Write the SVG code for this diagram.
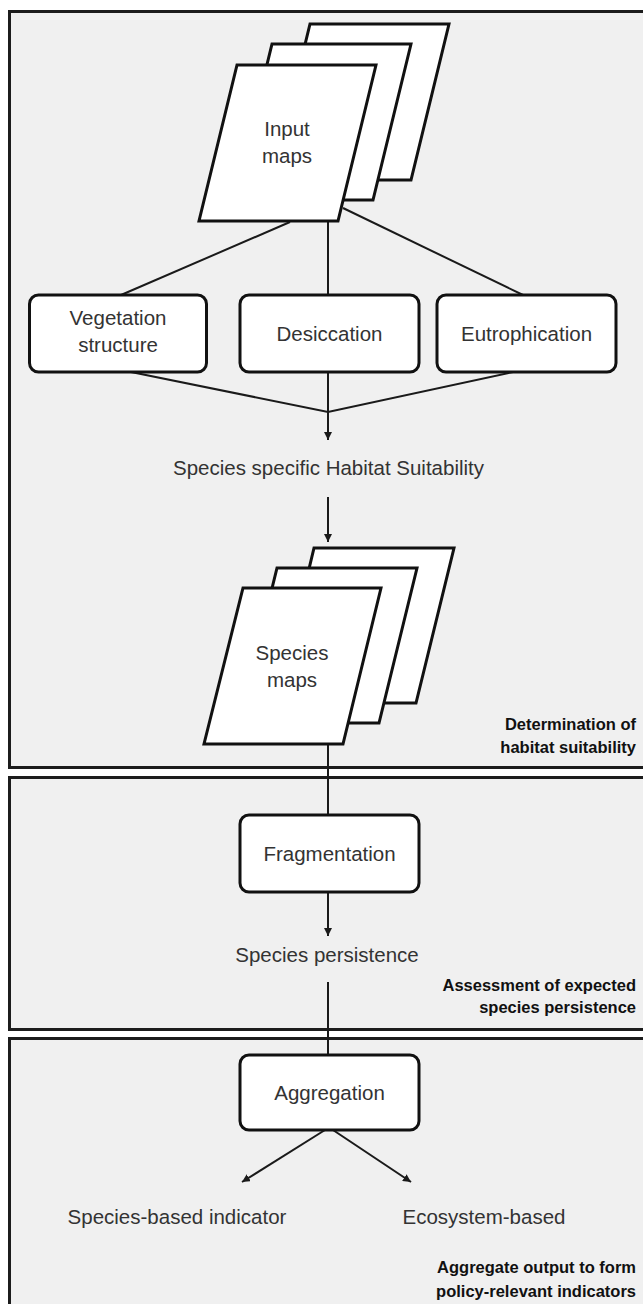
<svg xmlns="http://www.w3.org/2000/svg" width="643" height="1304" viewBox="0 0 643 1304">
<style>
.panel{fill:#f0f0f0;stroke:#1c1c1c;stroke-width:3}
.sheet{fill:#fff;stroke:#111;stroke-width:3;stroke-linejoin:miter}
.box{fill:#fff;stroke:#111;stroke-width:3}
.con{fill:none;stroke:#1a1a1a;stroke-width:2}
.t{font-family:"Liberation Sans",Arial,sans-serif;font-size:20.5px;fill:#333;text-anchor:middle}
.lbl{font-family:"Liberation Sans",Arial,sans-serif;font-size:16.5px;font-weight:bold;fill:#111;text-anchor:end}
</style>
<defs>
<marker id="arr" markerUnits="userSpaceOnUse" markerWidth="8" markerHeight="8" refX="8" refY="4" orient="auto">
<path d="M0,0 L8,4 L0,8 z" fill="#1a1a1a"/>
</marker>
</defs>
<rect width="643" height="1304" fill="#fff"/>
<g id="panel-habitat">
<rect class="panel" x="9.5" y="11.5" width="640" height="756"/>
<text class="lbl" x="636" y="730">Determination of</text>
<text class="lbl" x="636" y="753">habitat suitability</text>
</g>
<g id="panel-persistence">
<rect class="panel" x="9.5" y="777.5" width="640" height="252"/>
<text class="lbl" x="636" y="991">Assessment of expected</text>
<text class="lbl" x="636" y="1013">species persistence</text>
</g>
<g id="panel-aggregate">
<rect class="panel" x="9.5" y="1038.5" width="640" height="300"/>
<text class="lbl" x="636" y="1273">Aggregate output to form</text>
<text class="lbl" x="636" y="1297">policy-relevant indicators</text>
</g>
<g id="connectors">
<line class="con" x1="290" y1="222" x2="121" y2="295"/>
<line class="con" x1="328" y1="222" x2="328" y2="295"/>
<line class="con" x1="343" y1="208" x2="523" y2="295"/>
<polyline class="con" points="131,372 328,412 513,372"/>
<line class="con" x1="328" y1="372" x2="328" y2="440" marker-end="url(#arr)"/>
<line class="con" x1="328" y1="497" x2="328" y2="542" marker-end="url(#arr)"/>
<line class="con" x1="328" y1="744" x2="328" y2="815"/>
<line class="con" x1="328" y1="892" x2="328" y2="936" marker-end="url(#arr)"/>
<line class="con" x1="328" y1="982" x2="328" y2="1055"/>
<line class="con" x1="325" y1="1130" x2="242" y2="1182" marker-end="url(#arr)"/>
<line class="con" x1="333" y1="1130" x2="411" y2="1182" marker-end="url(#arr)"/>
</g>
<g id="input-maps">
<polygon class="sheet" points="310,24 449,24 411,180 272,180"/>
<polygon class="sheet" points="272,44 411,44 373,200 234,200"/>
<polygon class="sheet" points="237,65 376,65 338,221 199,221"/>
<text class="t" x="287" y="136">Input</text>
<text class="t" x="287" y="163">maps</text>
</g>
<g id="vegetation">
<rect class="box" x="29.5" y="295" width="177" height="77" rx="9"/>
<text class="t" x="118" y="325">Vegetation</text>
<text class="t" x="118" y="352">structure</text>
</g>
<g id="desiccation">
<rect class="box" x="240" y="295" width="179" height="77" rx="9"/>
<text class="t" x="329.5" y="341">Desiccation</text>
</g>
<g id="eutrophication">
<rect class="box" x="437" y="295" width="179" height="77" rx="9"/>
<text class="t" x="526.5" y="341">Eutrophication</text>
</g>
<g id="habitat-suitability">
<text class="t" x="328.5" y="475">Species specific Habitat Suitability</text>
</g>
<g id="species-maps">
<polygon class="sheet" points="314,548 454,548 416,703 277,703"/>
<polygon class="sheet" points="277,568 417,568 379,723 239,723"/>
<polygon class="sheet" points="243,588 381,588 343,744 204,744"/>
<text class="t" x="292" y="660">Species</text>
<text class="t" x="292" y="687">maps</text>
</g>
<g id="fragmentation">
<rect class="box" x="240" y="815" width="179" height="77" rx="9"/>
<text class="t" x="329.5" y="861">Fragmentation</text>
</g>
<g id="species-persistence">
<text class="t" x="327" y="962">Species persistence</text>
</g>
<g id="aggregation">
<rect class="box" x="240" y="1055" width="179" height="75" rx="9"/>
<text class="t" x="329.5" y="1100">Aggregation</text>
</g>
<g id="species-indicator">
<text class="t" x="177" y="1224">Species-based indicator</text>
</g>
<g id="ecosystem-indicator">
<text class="t" x="484" y="1224">Ecosystem-based</text>
</g>
</svg>
